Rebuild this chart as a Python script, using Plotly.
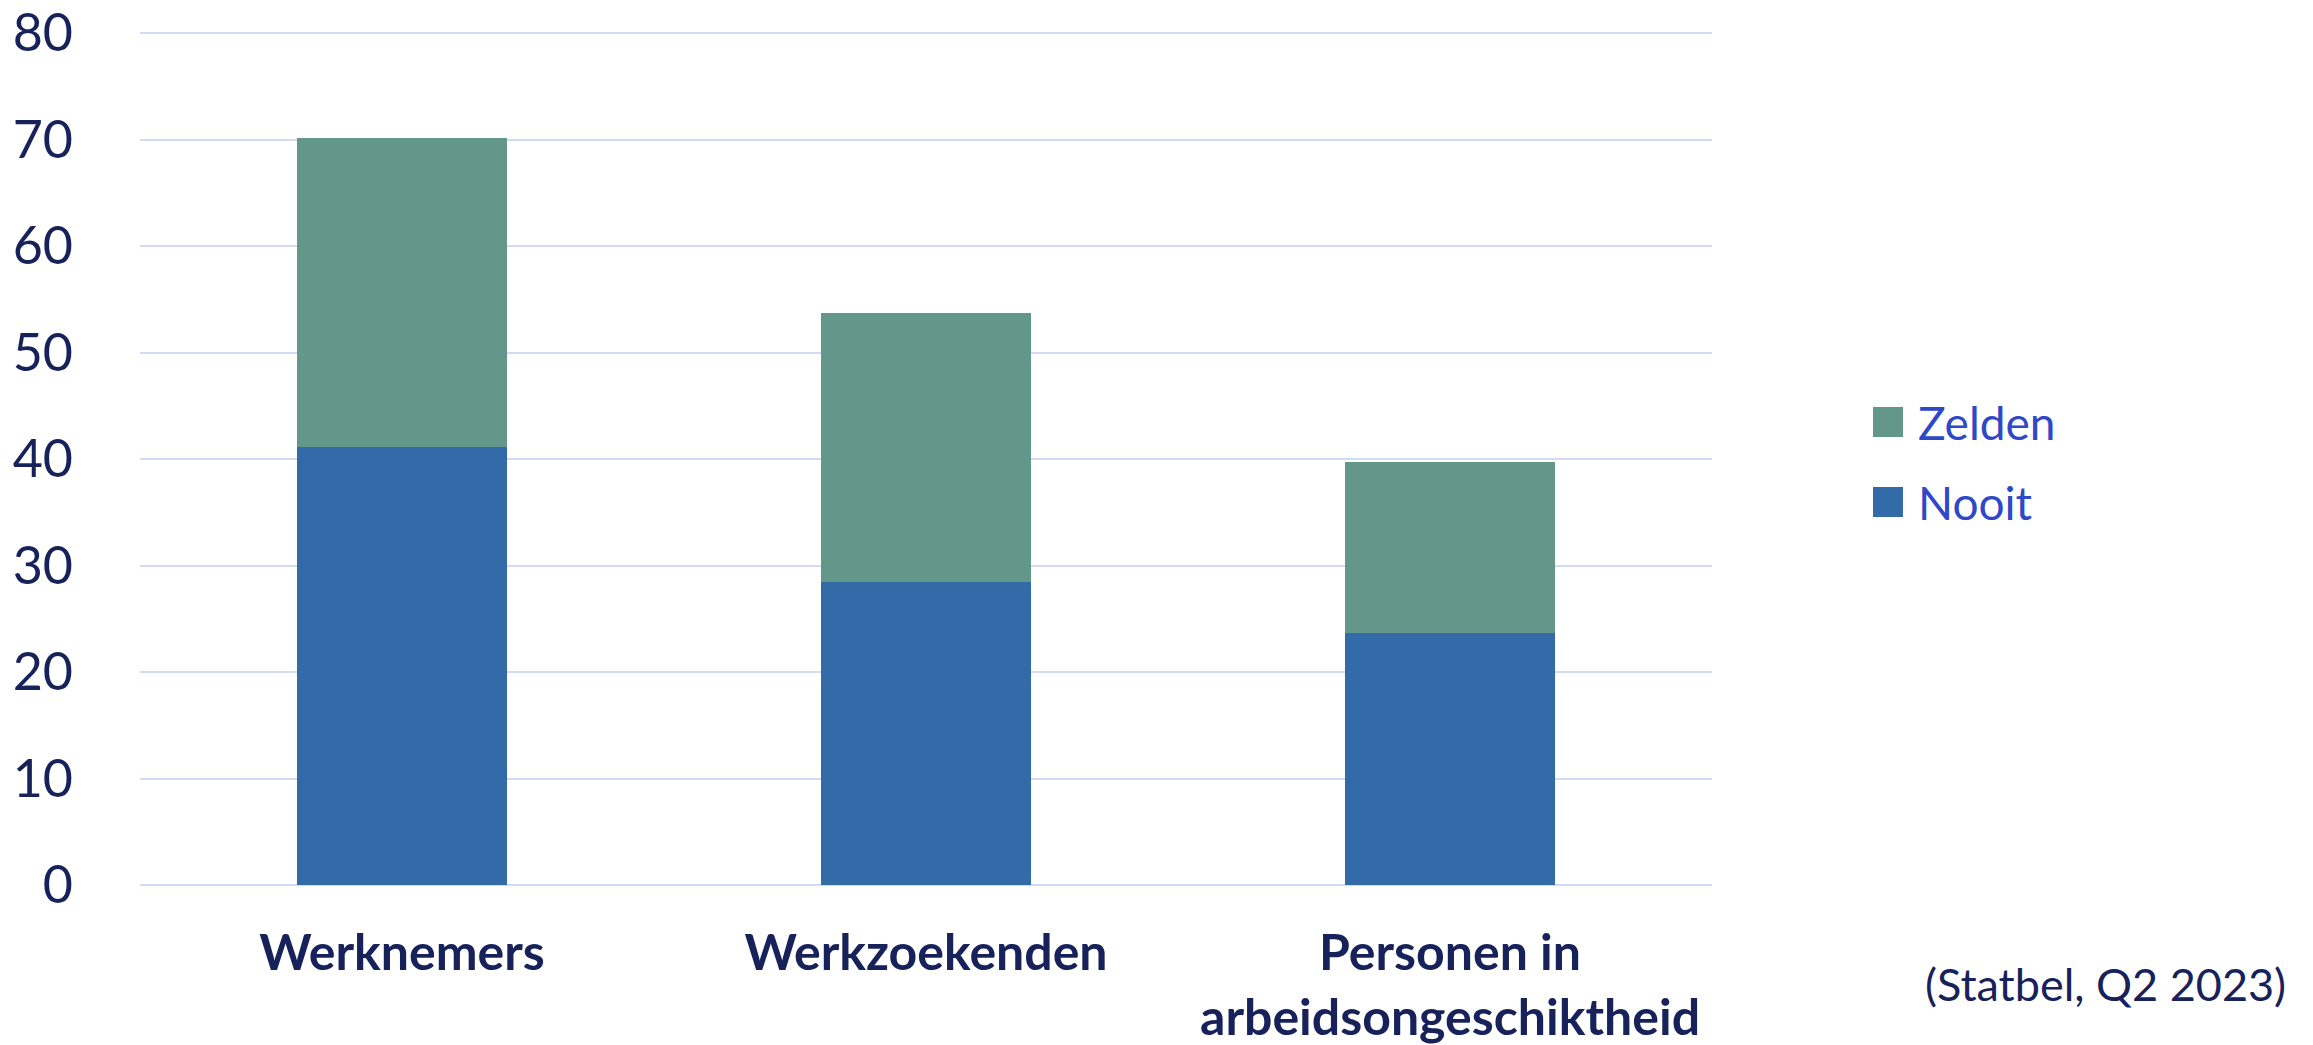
import plotly.graph_objects as go

categories = ["Werknemers", "Werkzoekenden", "Personen in<br>arbeidsongeschiktheid"]
series_names = ["Nooit", "Zelden"]
nooit = [41.1, 28.5, 23.7]
zelden = [29.0, 25.2, 16.0]
y_ticks = [0, 10, 20, 30, 40, 50, 60, 70, 80]
source_text = "(Statbel, Q2 2023)"

colors = {"Nooit": "#336BA8", "Zelden": "#62978A"}
navy = "#18225A"
legend_blue = "#2E48C8"

W, H = 2313, 1045
L = 140
T = 32
PB = 885          # plot bottom in px
PR = 1712
R = W - PR
B = H - PB
PW = W - L - R
PH = H - T - B


def px(xp):
    return (xp - L) / PW


def py(yp):
    return (PB - yp) / PH


fig = go.Figure()
for name, vals in zip(series_names, [nooit, zelden]):
    fig.add_trace(go.Bar(x=categories, y=vals, name=name,
                         marker=dict(color=colors[name], line=dict(width=0)),
                         showlegend=False, hoverinfo="x+y+name"))

fig.update_layout(
    width=W, height=H,
    margin=dict(l=L, r=R, t=T, b=B, autoexpand=False),
    barmode="stack", bargap=0.6,
    plot_bgcolor="white", paper_bgcolor="white",
    font=dict(family="Lato", color=navy),
)
fig.update_yaxes(range=[0, 80.1], tickvals=y_ticks, showgrid=True, gridcolor="#D3DAF3",
                 gridwidth=2, zeroline=True, zerolinecolor="#D3DAF3", zerolinewidth=2,
                 showline=False, ticks="", ticklabelstandoff=66, ticklabeloverflow="allow",
                 tickfont=dict(family="Lato", size=52, color=navy))
fig.update_xaxes(showgrid=False, showline=False, ticks="", ticklabelstandoff=34,
                 ticklabeloverflow="allow",
                 tickfont=dict(family="Lato", size=50, color=navy, weight="bold"))

# manual legend (top entry Zelden, then Nooit)
legend_items = [series_names[1], series_names[0]]
for i, name in enumerate(legend_items):
    yc = 422 + 80 * i
    fig.add_shape(type="rect", xref="paper", yref="paper",
                  x0=px(1873), x1=px(1903),
                  y0=py(yc + 15), y1=py(yc - 15),
                  fillcolor=colors[name], line=dict(width=0))
    fig.add_annotation(xref="paper", yref="paper", x=px(1916),
                       y=py(yc), text=name, showarrow=False,
                       xanchor="left", yanchor="middle",
                       font=dict(family="Lato", size=46, color=legend_blue))

fig.add_annotation(xref="paper", yref="paper", x=px(2288),
                   y=py(984), text=source_text, showarrow=False,
                   xanchor="right", yanchor="middle",
                   font=dict(family="Lato", size=45, color=navy))

fig.write_html("out.html", config={"displayModeBar": False},
               post_script="document.body.style.margin='0';")
